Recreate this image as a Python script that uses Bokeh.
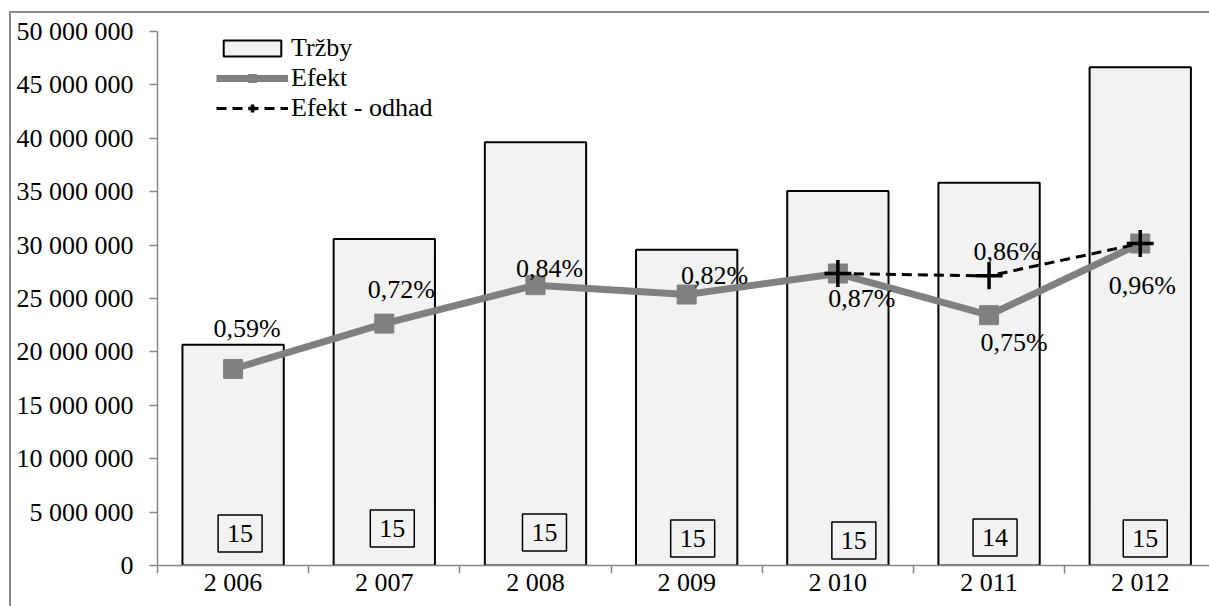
from bokeh.plotting import figure
from bokeh.models import ColumnDataSource, Range1d, FixedTicker, Legend, LegendItem
from bokeh.core.properties import value
from bokeh.embed import file_html
from bokeh.resources import INLINE

# ---- data -------------------------------------------------------------
years = ["2 006", "2 007", "2 008", "2 009", "2 010", "2 011", "2 012"]
trzby = [20_680_000, 30_560_000, 39_620_000, 29_560_000, 35_060_000, 35_840_000, 46_650_000]
efekt = [18_400_000, 22_650_000, 26_250_000, 25_370_000, 27_340_000, 23_440_000, 30_150_000]
efekt_pct = ["0,59%", "0,72%", "0,84%", "0,82%", "0,87%", "0,75%", "0,96%"]
odhad_years = ["2 010", "2 011", "2 012"]
odhad = [27_340_000, 27_120_000, 30_150_000]
odhad_pct = ["", "0,86%", ""]
pocet = [15, 15, 15, 15, 15, 14, 15]
y_ticks = list(range(0, 50_000_001, 5_000_000))

# ---- label placement (screen pixels) ------------------------------------
pct_dx = [14, 17, 14, 28, 24, 25, 2]
pct_dy = [-40, -34, -17, -19, 25, 27, 42]
odhad_dx = [0, 18, 0]
odhad_dy = [0, -24, 0]
box_dx = [7, 8, 9, 6, 16, 6, 5]
box_dy = [-32, -37, -33, -27, -25, -28, -27]

FONT = "Liberation Serif"
AXIS_GREY = "#868686"

xs = list(range(len(years)))
ox = [years.index(y) for y in odhad_years]

src = ColumnDataSource(dict(
    x=xs, trzby=trzby, efekt=efekt, pct=efekt_pct, pdx=pct_dx, pdy=pct_dy,
    base=[0] * len(xs), n=[str(v) for v in pocet], bdx=box_dx, bdy=box_dy,
))
osrc = ColumnDataSource(dict(x=ox, odhad=odhad, pct=odhad_pct, dx=odhad_dx, dy=odhad_dy))

p = figure(
    width=1209, height=606,
    x_range=Range1d(-0.5, 6.458), y_range=Range1d(0, 50_000_000),
    output_backend="svg", toolbar_location=None,
    min_border_left=157, min_border_right=0, min_border_top=31, min_border_bottom=41,
)
p.grid.visible = False
p.outline_line_color = None
p.border_fill_color = None
p.background_fill_color = "white"

# outer chart frame (top and left edges)
p.styles = {
    "background-image": "linear-gradient(#8c8c8c,#8c8c8c), linear-gradient(#8c8c8c,#8c8c8c)",
    "background-size": "100% 2px, 2px 100%",
    "background-position": "9px 11px, 9px 11px",
    "background-repeat": "no-repeat",
}

# bars
bars = p.vbar(x="x", top="trzby", width=0.67, source=src,
              fill_color="#f2f2f2", line_color="black", line_width=2)

# Efekt line with square markers
ef_line = p.line(x="x", y="efekt", source=src, line_color="#808080", line_width=7)
ef_pts = p.scatter(x="x", y="efekt", source=src, marker="square", size=19,
                   fill_color="#808080", line_color="#808080")

# estimate line with cross markers
od_line = p.line(x="x", y="odhad", source=osrc, line_color="black", line_width=3,
                 line_dash="10 6")
od_pts = p.scatter(x="x", y="odhad", source=osrc, marker="cross", size=27,
                   line_color="black", line_width=3.5)

# percentage labels
p.text(x="x", y="efekt", text="pct", source=src, x_offset="pdx", y_offset="pdy",
       text_font=value(FONT), text_font_size=value("26px"), text_color="black",
       text_align="center", text_baseline="middle")
p.text(x="x", y="odhad", text="pct", source=osrc, x_offset="dx", y_offset="dy",
       text_font=value(FONT), text_font_size=value("26px"), text_color="black",
       text_align="center", text_baseline="middle")

# boxed counts near the base of each bar
p.text(x="x", y="base", text="n", source=src, x_offset="bdx", y_offset="bdy",
       text_font=value(FONT), text_font_size=value("26px"), text_color="black",
       text_align="center", text_baseline="middle",
       background_fill_color="#f2f2f2", border_line_color="black", border_line_width=1.5,
       padding=dict(left=9, right=9, top=10, bottom=10))

# y axis
yax = p.yaxis[0]
yax.ticker = FixedTicker(ticks=y_ticks)
yax.major_label_overrides = {t: f"{t:,}".replace(",", " ") for t in y_ticks}
yax.axis_line_color = AXIS_GREY
yax.axis_line_width = 1.5
yax.major_tick_line_color = AXIS_GREY
yax.major_tick_line_width = 1.5
yax.major_tick_out = 8
yax.major_tick_in = 0
yax.minor_tick_line_color = None
yax.major_label_standoff = 16
yax.major_label_text_font = FONT
yax.major_label_text_font_size = "26px"
yax.major_label_text_color = "black"

# x axis: labels at bar centres, ticks between categories
xax = p.xaxis[0]
xax.ticker = FixedTicker(ticks=xs, minor_ticks=[i - 0.5 for i in xs] + [len(xs) - 0.5])
xax.major_label_overrides = {i: y for i, y in zip(xs, years)}
xax.axis_line_color = AXIS_GREY
xax.axis_line_width = 1.5
xax.major_tick_line_color = None
xax.major_tick_out = 0
xax.major_tick_in = 0
xax.minor_tick_line_color = AXIS_GREY
xax.minor_tick_line_width = 1.5
xax.minor_tick_out = 8
xax.minor_tick_in = 0
xax.major_label_standoff = -6
xax.major_label_text_font = FONT
xax.major_label_text_font_size = "26px"
xax.major_label_text_color = "black"

legend = Legend(
    items=[
        LegendItem(label="Tržby", renderers=[bars]),
        LegendItem(label="Efekt", renderers=[ef_line, ef_pts]),
        LegendItem(label="Efekt - odhad", renderers=[od_line, od_pts]),
    ],
    location=(59, 442), orientation="vertical",
    glyph_width=72, glyph_height=20, label_height=27, label_standoff=3,
    spacing=0, padding=0, margin=0,
    border_line_color=None, background_fill_alpha=0,
    label_text_font=FONT, label_text_font_size="26px", label_text_color="black",
)
p.add_layout(legend)

open("out.html", "w").write(file_html(p, INLINE))
